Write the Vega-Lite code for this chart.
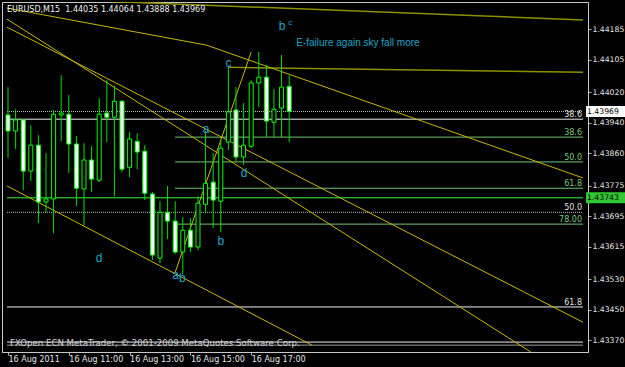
{
  "$schema": "https://vega.github.io/schema/vega-lite/v6.json",
  "width": 586,
  "height": 350,
  "autosize": {"type": "none"},
  "padding": {"left": 2, "top": 2, "right": 37, "bottom": 15},
  "background": "#000000",
  "title": {"text": "EURUSD,M15\u00a0 1.44035 1.44064 1.43888 1.43969", "anchor": "start", "frame": "group", "orient": "top", "offset": -18, "dx": 5, "baseline": "alphabetic", "font": "DejaVu Sans", "fontSize": 8, "fontWeight": "normal", "color": "#f0f0f0"},
  "config": {
    "view": {"stroke": "#c8c8c8", "strokeWidth": 1},
    "axis": {"labelFont": "DejaVu Sans", "labelFontSize": 8, "labelColor": "#e4e4e4", "tickColor": "#b4b4b4", "domainColor": "#c8c8c8", "grid": false, "labelFlush": false, "labelOverlap": false, "labelBound": false}
  },
  "datasets": {
    "candles": [
      {"t": "2011-08-16T09:00Z", "open": 1.43960, "high": 1.44033, "low": 1.43847, "close": 1.43918},
      {"t": "2011-08-16T09:15Z", "open": 1.43918, "high": 1.43975, "low": 1.43871, "close": 1.43947},
      {"t": "2011-08-16T09:30Z", "open": 1.43947, "high": 1.43949, "low": 1.43763, "close": 1.43813},
      {"t": "2011-08-16T09:45Z", "open": 1.43813, "high": 1.43933, "low": 1.43787, "close": 1.43881},
      {"t": "2011-08-16T10:00Z", "open": 1.43881, "high": 1.43907, "low": 1.43677, "close": 1.43732},
      {"t": "2011-08-16T10:15Z", "open": 1.43732, "high": 1.43860, "low": 1.43705, "close": 1.43740},
      {"t": "2011-08-16T10:30Z", "open": 1.43740, "high": 1.43973, "low": 1.43650, "close": 1.43962},
      {"t": "2011-08-16T10:45Z", "open": 1.43960, "high": 1.44064, "low": 1.43891, "close": 1.43965},
      {"t": "2011-08-16T11:00Z", "open": 1.43962, "high": 1.44012, "low": 1.43808, "close": 1.43884},
      {"t": "2011-08-16T11:15Z", "open": 1.43884, "high": 1.43905, "low": 1.43721, "close": 1.43768},
      {"t": "2011-08-16T11:30Z", "open": 1.43766, "high": 1.43886, "low": 1.43671, "close": 1.43842},
      {"t": "2011-08-16T11:45Z", "open": 1.43842, "high": 1.43878, "low": 1.43758, "close": 1.43792},
      {"t": "2011-08-16T12:00Z", "open": 1.43789, "high": 1.44004, "low": 1.43784, "close": 1.43962},
      {"t": "2011-08-16T12:15Z", "open": 1.43965, "high": 1.44051, "low": 1.43889, "close": 1.43954},
      {"t": "2011-08-16T12:30Z", "open": 1.43954, "high": 1.44036, "low": 1.43747, "close": 1.43996},
      {"t": "2011-08-16T12:45Z", "open": 1.43996, "high": 1.43999, "low": 1.43810, "close": 1.43818},
      {"t": "2011-08-16T13:00Z", "open": 1.43823, "high": 1.43915, "low": 1.43797, "close": 1.43897},
      {"t": "2011-08-16T13:15Z", "open": 1.43891, "high": 1.43912, "low": 1.43818, "close": 1.43863},
      {"t": "2011-08-16T13:30Z", "open": 1.43865, "high": 1.43881, "low": 1.43737, "close": 1.43755},
      {"t": "2011-08-16T13:45Z", "open": 1.43753, "high": 1.43758, "low": 1.43580, "close": 1.43593},
      {"t": "2011-08-16T14:00Z", "open": 1.43585, "high": 1.43734, "low": 1.43572, "close": 1.43705},
      {"t": "2011-08-16T14:15Z", "open": 1.43705, "high": 1.43774, "low": 1.43635, "close": 1.43682},
      {"t": "2011-08-16T14:30Z", "open": 1.43682, "high": 1.43734, "low": 1.43595, "close": 1.43601},
      {"t": "2011-08-16T14:45Z", "open": 1.43601, "high": 1.43692, "low": 1.43543, "close": 1.43658},
      {"t": "2011-08-16T15:00Z", "open": 1.43658, "high": 1.43690, "low": 1.43601, "close": 1.43614},
      {"t": "2011-08-16T15:15Z", "open": 1.43614, "high": 1.43747, "low": 1.43606, "close": 1.43729},
      {"t": "2011-08-16T15:30Z", "open": 1.43726, "high": 1.43918, "low": 1.43703, "close": 1.43781},
      {"t": "2011-08-16T15:45Z", "open": 1.43784, "high": 1.43860, "low": 1.43664, "close": 1.43737},
      {"t": "2011-08-16T16:00Z", "open": 1.43734, "high": 1.43894, "low": 1.43653, "close": 1.43873},
      {"t": "2011-08-16T16:15Z", "open": 1.43889, "high": 1.44085, "low": 1.43868, "close": 1.43968},
      {"t": "2011-08-16T16:30Z", "open": 1.43973, "high": 1.44033, "low": 1.43837, "close": 1.43850},
      {"t": "2011-08-16T16:45Z", "open": 1.43850, "high": 1.43991, "low": 1.43829, "close": 1.43881},
      {"t": "2011-08-16T17:00Z", "open": 1.43878, "high": 1.44051, "low": 1.43873, "close": 1.44044},
      {"t": "2011-08-16T17:15Z", "open": 1.44044, "high": 1.44125, "low": 1.43981, "close": 1.44059},
      {"t": "2011-08-16T17:30Z", "open": 1.44059, "high": 1.44091, "low": 1.43902, "close": 1.43944},
      {"t": "2011-08-16T17:45Z", "open": 1.43941, "high": 1.44028, "low": 1.43902, "close": 1.43975},
      {"t": "2011-08-16T18:00Z", "open": 1.43978, "high": 1.44117, "low": 1.43902, "close": 1.44033},
      {"t": "2011-08-16T18:15Z", "open": 1.44035, "high": 1.44064, "low": 1.43888, "close": 1.43969}
    ],
    "levels": [
      {"t": "2011-08-16T08:58Z", "t2": "2011-08-17T03:55Z", "p": 1.43969, "kind": "dot"},
      {"t": "2011-08-16T08:58Z", "t2": "2011-08-17T03:55Z", "p": 1.43949, "kind": "white"},
      {"t": "2011-08-16T14:30Z", "t2": "2011-08-17T03:55Z", "p": 1.43902, "kind": "fib"},
      {"t": "2011-08-16T14:30Z", "t2": "2011-08-17T03:55Z", "p": 1.43837, "kind": "fib"},
      {"t": "2011-08-16T14:30Z", "t2": "2011-08-17T03:55Z", "p": 1.43768, "kind": "fib"},
      {"t": "2011-08-16T08:58Z", "t2": "2011-08-17T03:55Z", "p": 1.43743, "kind": "price"},
      {"t": "2011-08-16T08:58Z", "t2": "2011-08-17T03:55Z", "p": 1.43705, "kind": "dot"},
      {"t": "2011-08-16T14:30Z", "t2": "2011-08-17T03:55Z", "p": 1.43674, "kind": "fib"},
      {"t": "2011-08-16T08:58Z", "t2": "2011-08-17T03:55Z", "p": 1.43457, "kind": "white"},
      {"t": "2011-08-16T08:58Z", "t2": "2011-08-17T03:55Z", "p": 1.43365, "kind": "white"},
      {"t": "2011-08-16T08:58Z", "t2": "2011-08-17T03:55Z", "p": 1.43357, "kind": "frame"}
    ],
    "fiblabels": [
      {"t": "2011-08-17T03:53Z", "p": 1.43949, "label": "38.6", "kind": "white"},
      {"t": "2011-08-17T03:53Z", "p": 1.43902, "label": "38.6", "kind": "fib"},
      {"t": "2011-08-17T03:53Z", "p": 1.43837, "label": "50.0", "kind": "fib"},
      {"t": "2011-08-17T03:53Z", "p": 1.43768, "label": "61.8", "kind": "fib"},
      {"t": "2011-08-17T03:53Z", "p": 1.43705, "label": "50.0", "kind": "white"},
      {"t": "2011-08-17T03:53Z", "p": 1.43674, "label": "78.00", "kind": "fib"},
      {"t": "2011-08-17T03:53Z", "p": 1.43457, "label": "61.8", "kind": "white"}
    ],
    "trends": [
      {"id": "A", "ord": 0, "t": "2011-08-16T08:58Z", "p": 1.44268, "grp": "flat"},
      {"id": "A", "ord": 1, "t": "2011-08-17T03:55Z", "p": 1.44209, "grp": "flat"},
      {"id": "B", "ord": 0, "t": "2011-08-16T16:15Z", "p": 1.44085, "grp": "flat"},
      {"id": "B", "ord": 1, "t": "2011-08-17T03:55Z", "p": 1.44072, "grp": "flat"},
      {"id": "P", "ord": 0, "t": "2011-08-16T08:58Z", "p": 1.44240, "grp": "diag"},
      {"id": "P", "ord": 1, "t": "2011-08-16T15:32Z", "p": 1.44143, "grp": "diag"},
      {"id": "P", "ord": 2, "t": "2011-08-17T03:55Z", "p": 1.43795, "grp": "diag"},
      {"id": "Q", "ord": 0, "t": "2011-08-16T08:58Z", "p": 1.44190, "grp": "diag"},
      {"id": "Q", "ord": 1, "t": "2011-08-17T03:55Z", "p": 1.43417, "grp": "diag"},
      {"id": "R", "ord": 0, "t": "2011-08-16T08:58Z", "p": 1.44211, "grp": "diag"},
      {"id": "R", "ord": 1, "t": "2011-08-17T02:12Z", "p": 1.43339, "grp": "diag"},
      {"id": "S", "ord": 0, "t": "2011-08-16T08:58Z", "p": 1.43774, "grp": "diag"},
      {"id": "S", "ord": 1, "t": "2011-08-16T19:00Z", "p": 1.43357, "grp": "diag"},
      {"id": "U", "ord": 0, "t": "2011-08-16T14:30Z", "p": 1.43548, "grp": "diag"},
      {"id": "U", "ord": 1, "t": "2011-08-16T17:00Z", "p": 1.44125, "grp": "diag"}
    ],
    "notes": [
      {"t": "2011-08-16T18:01Z", "p": 1.44193, "label": "b", "kind": "letter"},
      {"t": "2011-08-16T18:17Z", "p": 1.44201, "label": "c", "kind": "sup"},
      {"t": "2011-08-16T18:29Z", "p": 1.44148, "label": "E-failure again sky fall more", "kind": "text"},
      {"t": "2011-08-16T16:15Z", "p": 1.44095, "label": "c", "kind": "letter"},
      {"t": "2011-08-16T15:31Z", "p": 1.43924, "label": "a", "kind": "letter"},
      {"t": "2011-08-16T16:46Z", "p": 1.43809, "label": "d", "kind": "letter"},
      {"t": "2011-08-16T16:00Z", "p": 1.43631, "label": "b", "kind": "letter"},
      {"t": "2011-08-16T12:00Z", "p": 1.43586, "label": "d", "kind": "letter"},
      {"t": "2011-08-16T14:31Z", "p": 1.43542, "label": "a", "kind": "letter"},
      {"t": "2011-08-16T14:44Z", "p": 1.43533, "label": "b", "kind": "letter"}
    ],
    "footer": [
      {"t": "2011-08-16T09:04Z", "p": 1.43363, "label": "FXOpen ECN MetaTrader, \u00a9 2001-2009 MetaQuotes Software Corp."}
    ],
    "boxes": [
      {"t": "2011-08-17T04:01Z", "t2": "2011-08-17T05:20Z", "p": 1.43969, "label": "1.43969", "kind": "bid"},
      {"t": "2011-08-17T04:01Z", "t2": "2011-08-17T05:20Z", "p": 1.43743, "label": "1.43743", "kind": "price"}
    ]
  },
  "encoding": {
    "x": {
      "field": "t", "type": "temporal", "title": null,
      "scale": {"type": "utc", "domain": [{"year": 2011, "month": 8, "date": 16, "hours": 8, "minutes": 58, "utc": true}, {"year": 2011, "month": 8, "date": 17, "hours": 3, "minutes": 55, "utc": true}]},
      "axis": {
        "title": null,
        "values": [
          {"year": 2011, "month": 8, "date": 16, "hours": 9, "utc": true},
          {"year": 2011, "month": 8, "date": 16, "hours": 11, "utc": true},
          {"year": 2011, "month": 8, "date": 16, "hours": 13, "utc": true},
          {"year": 2011, "month": 8, "date": 16, "hours": 15, "utc": true},
          {"year": 2011, "month": 8, "date": 16, "hours": 17, "utc": true}
        ],
        "labelExpr": "utcFormat(datum.value, '%H') == '09' ? utcFormat(datum.value, '%d %b %Y') : utcFormat(datum.value, '%d %b %H:%M')",
        "labelAlign": "left", "labelBaseline": "top", "tickSize": 3, "labelPadding": 0
      }
    },
    "y": {
      "field": "p", "type": "quantitative", "title": null,
      "scale": {"domain": [1.43339, 1.44256], "nice": false, "zero": false},
      "axis": {
        "title": null, "orient": "right",
        "values": [1.44185, 1.44105, 1.4402, 1.4394, 1.4386, 1.43775, 1.43695, 1.43615, 1.4353, 1.4345, 1.4337],
        "format": ".5f", "tickSize": 3, "labelPadding": 1, "labelFontSize": 7.7
      }
    }
  },
  "layer": [
    {
      "data": {"name": "levels"},
      "mark": {"type": "rule", "clip": true, "strokeWidth": 1},
      "encoding": {
        "x2": {"field": "t2", "title": null},
        "color": {"condition": [{"test": "datum.kind == 'dot'", "value": "#bdbdbd"}, {"test": "datum.kind == 'fib'", "value": "#7ed67e"}, {"test": "datum.kind == 'price'", "value": "#3cf03c"}, {"test": "datum.kind == 'frame'", "value": "#9a9a9a"}], "value": "#f0f0f0"},
        "strokeDash": {"condition": {"test": "datum.kind == 'dot'", "value": [1, 1]}, "value": [1, 0]}
      }
    },
    {
      "data": {"name": "trends"},
      "transform": [{"filter": "datum.grp == 'flat'"}],
      "mark": {"type": "line", "clip": true, "strokeWidth": 1.5, "color": "#8f8f00"},
      "encoding": {"detail": {"field": "id"}, "order": {"field": "ord"}}
    },
    {
      "data": {"name": "trends"},
      "transform": [{"filter": "datum.grp == 'diag'"}],
      "mark": {"type": "line", "clip": true, "strokeWidth": 1, "color": "#c6b800"},
      "encoding": {"detail": {"field": "id"}, "order": {"field": "ord"}}
    },
    {
      "data": {"name": "candles"},
      "mark": {"type": "rule", "clip": true, "color": "#00e000", "strokeWidth": 1},
      "encoding": {
        "y": {"field": "low", "type": "quantitative", "title": null, "scale": {"domain": [1.43339, 1.44256], "nice": false, "zero": false}},
        "y2": {"field": "high", "title": null}
      }
    },
    {
      "data": {"name": "candles"},
      "mark": {"type": "bar", "clip": true, "width": 4, "stroke": "#00ff00", "strokeWidth": 1},
      "encoding": {
        "y": {"field": "open", "type": "quantitative", "title": null, "scale": {"domain": [1.43339, 1.44256], "nice": false, "zero": false}},
        "y2": {"field": "close", "title": null},
        "fill": {"condition": {"test": "datum.close < datum.open", "value": "#ffffff"}, "value": "#000000"}
      }
    },
    {
      "data": {"name": "fiblabels"},
      "mark": {"type": "text", "align": "right", "baseline": "alphabetic", "dy": -2, "font": "DejaVu Sans", "fontSize": 8},
      "encoding": {
        "text": {"field": "label"},
        "color": {"condition": {"test": "datum.kind == 'fib'", "value": "#78c878"}, "value": "#e0e0e0"}
      }
    },
    {
      "data": {"name": "notes"},
      "transform": [{"filter": "datum.kind != 'text'"}],
      "mark": {"type": "text", "align": "center", "baseline": "middle", "font": "Liberation Sans", "color": "#1fa6c6"},
      "encoding": {
        "text": {"field": "label"},
        "size": {"condition": {"test": "datum.kind == 'sup'", "value": 8}, "value": 12}
      }
    },
    {
      "data": {"name": "notes"},
      "transform": [{"filter": "datum.kind == 'text'"}],
      "mark": {"type": "text", "align": "left", "baseline": "middle", "font": "Liberation Sans", "fontSize": 10, "color": "#1fa6c6"},
      "encoding": {"text": {"field": "label"}}
    },
    {
      "data": {"name": "footer"},
      "mark": {"type": "text", "align": "left", "baseline": "middle", "font": "DejaVu Sans", "fontSize": 8.6, "color": "#d4d4d4"},
      "encoding": {"text": {"field": "label"}}
    },
    {
      "data": {"name": "boxes"},
      "mark": {"type": "rule", "clip": false, "strokeWidth": 11, "strokeCap": "butt"},
      "encoding": {
        "x2": {"field": "t2", "title": null},
        "color": {"condition": {"test": "datum.kind == 'price'", "value": "#33c833"}, "value": "#ffffff"}
      }
    },
    {
      "data": {"name": "boxes"},
      "mark": {"type": "text", "clip": false, "align": "left", "baseline": "middle", "dx": 1, "font": "DejaVu Sans", "fontSize": 7.7, "color": "#000000"},
      "encoding": {"text": {"field": "label"}}
    }
  ]
}
